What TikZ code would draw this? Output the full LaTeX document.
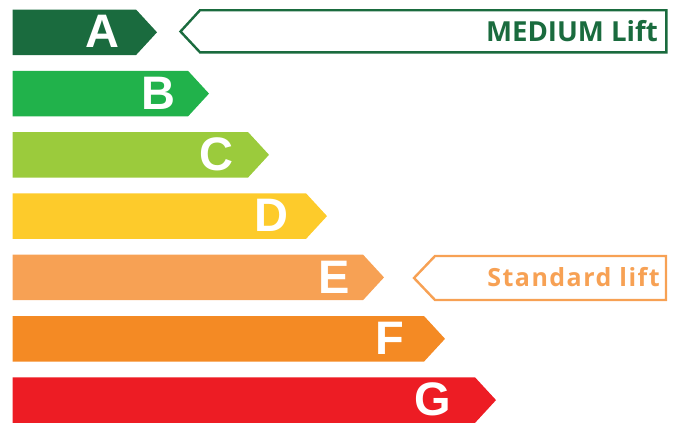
\documentclass[tikz,border=0pt]{standalone}
\usepackage{fontspec}
\usepackage{tikz}
\usetikzlibrary{positioning}
\usepackage{xcolor}
\newfontfamily\barfont{Liberation Sans}
\newfontfamily\tagfont{Open Sans}
\newfontfamily\widetagfont{Open Sans}[LetterSpace=6]

\definecolor{clA}{HTML}{1A6B3E}
\definecolor{clB}{HTML}{21B24B}
\definecolor{clC}{HTML}{9BCB3C}
\definecolor{clD}{HTML}{FDCB2B}
\definecolor{clE}{HTML}{F7A154}
\definecolor{clF}{HTML}{F48A24}
\definecolor{clG}{HTML}{ED1C24}

\begin{document}
\begin{tikzpicture}[x=1pt,y=-1pt,
                    line join=miter]
  \tikzstyle{letter}=[text=white,inner sep=0pt,
                      font=\barfont\bfseries\fontsize{47}{47}\selectfont]
  \tikzstyle{tag}=[line width=2.4pt,fill=white]
  \tikzstyle{tagtext}=[anchor=base east,inner sep=0pt]

  \useasboundingbox (0,0) rectangle (675,423);

  \foreach \n/\top/\body/\lx in {A/9.5/136/102.5,B/70.8/188/158,
                                 C/132/248/216,D/193.3/306/271.7,
                                 E/254.6/363/334.5,F/316/424/390,
                                 G/377.3/475/432.5}{
    \fill[cl\n] (12.5,\top) -- (\body,\top) -- (\body+21,\top+22.8)
                -- (\body,\top+45.6) -- (12.5,\top+45.6) -- cycle;
    \node[letter] (\n) at (\lx,\top+22.3) {\n};
  }

  % callouts
  \draw[tag,draw=clA] (180.5,31.5) -- (200,10.2) -- (666.3,10.2)
                      -- (666.3,52.3) -- (200,52.3) -- cycle;
  \node[tagtext,text=clA,font=\tagfont\bfseries\fontsize{27.6}{28}\selectfont]
        (medium) at (658,41) {MEDIUM Lift};

  \draw[tag,draw=clE] (414,278) -- (435,256) -- (666,256)
                      -- (666,300) -- (435,300) -- cycle;
  \node[tagtext,text=clE,font=\widetagfont\bfseries\fontsize{25}{25}\selectfont]
        (standard) at (660,286.7) {Standard lift};
\end{tikzpicture}
\end{document}
